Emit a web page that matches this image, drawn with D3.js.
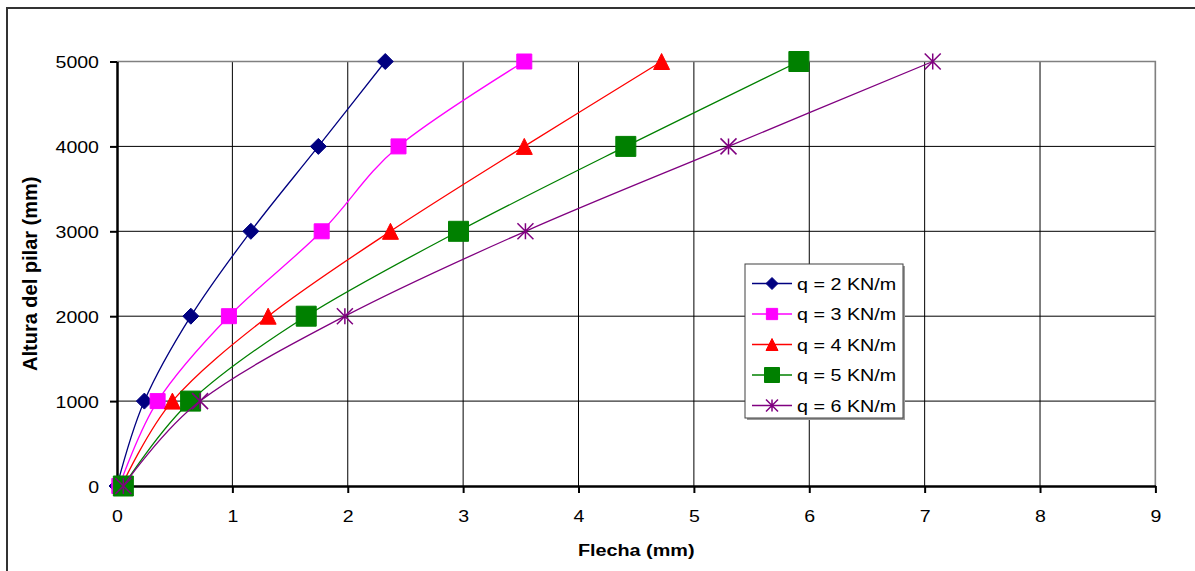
<!DOCTYPE html>
<html>
<head>
<meta charset="utf-8">
<script src="https://cdn.jsdelivr.net/npm/d3@7"></script>
<style>
  html, body { margin: 0; padding: 0; background: #fff; }
  svg { display: block; font-family: "Liberation Sans", Arial, sans-serif; }
</style>
</head>
<body>
<div id="chart"></div>
<script>
// Datos
const alturas = [0, 1000, 2000, 3000, 4000, 5000];
const flechaQ2 = [0, 0.237, 0.64, 1.16, 1.745, 2.325];
const flechaQ3 = [0.02, 0.352, 0.97, 1.774, 2.44, 3.53];
const flechaQ4 = [0.04, 0.48, 1.31, 2.37, 3.53, 4.72];
const flechaQ5 = [0.055, 0.638, 1.64, 2.96, 4.41, 5.91];
const flechaQ6 = [0.055, 0.72, 1.975, 3.54, 5.30, 7.07];
const nombres = ['q = 2 KN/m', 'q = 3 KN/m', 'q = 4 KN/m', 'q = 5 KN/m', 'q = 6 KN/m'];
const xTicks = [0, 1, 2, 3, 4, 5, 6, 7, 8, 9];
const yTicks = [0, 1000, 2000, 3000, 4000, 5000];

const width = 1195;
const height = 571;

const series = [
    { name: nombres[0], values: flechaQ2, color: '#000080', marker: 'diamond', size: 16 },
    { name: nombres[1], values: flechaQ3, color: '#FF00FF', marker: 'square', size: 15 },
    { name: nombres[2], values: flechaQ4, color: '#FF0000', marker: 'triangle', size: 16 },
    { name: nombres[3], values: flechaQ5, color: '#008000', marker: 'square', size: 20 },
    { name: nombres[4], values: flechaQ6, color: '#800080', marker: 'star', size: 16 }
];

const svg = d3.select('#chart')
    .append('svg')
    .attr('width', width)
    .attr('height', height);

// Borde del area del grafico (se sale por la derecha y abajo)
svg.append('rect')
    .attr('x', 7).attr('y', 8)
    .attr('width', 1200).attr('height', 600)
    .attr('fill', '#fff')
    .attr('stroke', '#333')
    .attr('stroke-width', 2);

const x = d3.scaleLinear().domain([0, 9]).range([117, 1155.4]);
const y = d3.scaleLinear().domain([0, 5000]).range([486, 61.5]);

// Rejilla
const grid = svg.append('g');
grid.selectAll('line.h')
    .data(yTicks.slice(1))
    .enter()
    .append('line')
    .attr('x1', x(0)).attr('x2', x(9))
    .attr('y1', d => y(d)).attr('y2', d => y(d))
    .attr('stroke', '#000').attr('stroke-width', 1);
grid.selectAll('line.v')
    .data(xTicks.slice(1))
    .enter()
    .append('line')
    .attr('x1', d => x(d)).attr('x2', d => x(d))
    .attr('y1', y(0)).attr('y2', y(5000))
    .attr('stroke', '#000').attr('stroke-width', 1);

// Borde del area de trazado
svg.append('path')
    .attr('d', `M${x(0)},${y(5000)}H${x(9)}V${y(0)}`)
    .attr('fill', 'none')
    .attr('stroke', '#808080')
    .attr('stroke-width', 1.5);

// Ejes
const xAxis = svg.append('g')
    .attr('transform', `translate(0,${y(0)})`)
    .call(d3.axisBottom(x).tickValues(xTicks).tickSize(7).tickSizeOuter(0).tickFormat(d3.format('d')));
const yAxis = svg.append('g')
    .attr('transform', `translate(${x(0)},0)`)
    .call(d3.axisLeft(y).tickValues(yTicks).tickSize(7).tickSizeOuter(0).tickFormat(d3.format('d')));

[xAxis, yAxis].forEach(a => {
    a.select('.domain').attr('stroke', '#000').attr('stroke-width', 2.5);
    a.selectAll('.tick line').attr('stroke', '#000').attr('stroke-width', 2);
    a.selectAll('.tick text')
        .attr('fill', '#000')
        .style('font-size', '17px')
        .style('font-family', '"Liberation Sans", Arial, sans-serif');
});
xAxis.selectAll('.tick text')
    .attr('y', 0).attr('dy', 0)
    .attr('transform', 'translate(0,36) scale(1.15,1)');
yAxis.selectAll('.tick text')
    .attr('x', 0).attr('dy', '0.36em')
    .attr('transform', 'translate(-18,0) scale(1.15,1)');

// Simbolos de los marcadores
const markerPath = (type, s) => {
    const h = s / 2;
    if (type === 'diamond') return `M0,${-h}L${h},0L0,${h}L${-h},0Z`;
    if (type === 'square') return `M${-h},${-h}H${h}V${h}H${-h}Z`;
    if (type === 'triangle') return `M0,${-h}L${h},${h}H${-h}Z`;
    return `M${-h},${-h}L${h},${h}M${-h},${h}L${h},${-h}M0,${-h}V${h}`;
};

const drawMarker = (g, s, size) => {
    const p = g.append('path').attr('d', markerPath(s.marker, size));
    if (s.marker === 'star') {
        p.attr('fill', 'none').attr('stroke', s.color).attr('stroke-width', 1.5);
    } else {
        p.attr('fill', s.color).attr('stroke', s.color).attr('stroke-width', 1);
    }
};

// Lineas suavizadas (estilo Excel)
const line = d3.line()
    .x(d => x(d[0]))
    .y(d => y(d[1]))
    .curve(d3.curveCardinal.tension(0));

series.forEach(s => {
    const pts = s.values.map((v, i) => [v, alturas[i]]);
    svg.append('path')
        .datum(pts)
        .attr('d', line)
        .attr('fill', 'none')
        .attr('stroke', s.color)
        .attr('stroke-width', 1.3);
    pts.forEach(p => {
        const g = svg.append('g').attr('transform', `translate(${x(p[0])},${y(p[1])})`);
        drawMarker(g, s, s.size);
    });
});

// Leyenda
const legend = svg.append('g').attr('transform', 'translate(745,264)');
legend.append('rect')
    .attr('x', 2).attr('y', 2).attr('width', 158).attr('height', 154)
    .attr('fill', '#9a9a9a');
legend.append('rect')
    .attr('x', 0).attr('y', 0).attr('width', 158).attr('height', 154)
    .attr('fill', '#fff').attr('stroke', '#404040').attr('stroke-width', 1);

series.forEach((s, i) => {
    const row = legend.append('g').attr('transform', `translate(0,${19.5 + i * 30.5})`);
    row.append('line')
        .attr('x1', 7).attr('x2', 47)
        .attr('stroke', s.color).attr('stroke-width', 1.3);
    const m = row.append('g').attr('transform', 'translate(27,0)');
    drawMarker(m, s, s.size * 0.75);
    row.append('text')
        .attr('transform', 'translate(52,6) scale(1.16,1)')
        .style('font-size', '17px')
        .attr('fill', '#000')
        .text(s.name);
});

// Titulos de los ejes
svg.append('text')
    .attr('transform', `translate(${(x(0) + x(9)) / 2},556) scale(1.2,1)`)
    .attr('text-anchor', 'middle')
    .style('font-size', '16.5px')
    .style('font-weight', 'bold')
    .text('Flecha (mm)');

svg.append('text')
    .attr('transform', `translate(37,${(y(0) + y(5000)) / 2}) rotate(-90)`)
    .attr('text-anchor', 'middle')
    .style('font-size', '20px')
    .style('font-weight', 'bold')
    .text('Altura del pilar (mm)');
</script>
</body>
</html>
